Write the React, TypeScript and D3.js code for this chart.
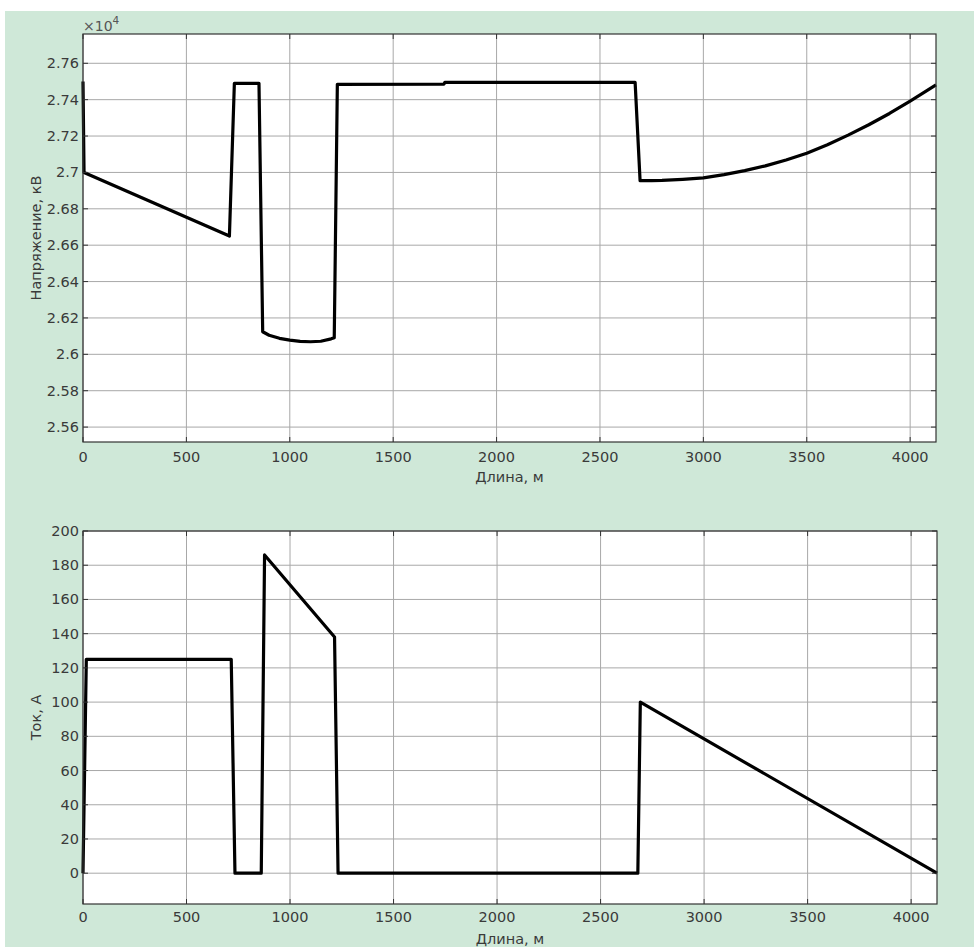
import React from "react";
import * as d3 from "d3";

// Voltage profile (V) along the line (m)
const voltX = [0, 5, 708, 732, 851, 869, 900, 950, 1000, 1050, 1100, 1150, 1200, 1215, 1230, 1745, 1750, 2670, 2694, 2750, 2800, 2900, 3000, 3100, 3200, 3300, 3400, 3500, 3600, 3700, 3800, 3900, 4000, 4125];
const voltY = [27500, 27000, 26650, 27490, 27490, 26124, 26105, 26088, 26078, 26071, 26069, 26072, 26085, 26091, 27484, 27485, 27495, 27495, 26955, 26955, 26956, 26962, 26970, 26988, 27010, 27036, 27068, 27106, 27152, 27205, 27262, 27324, 27392, 27481];

// Current profile (A)
const curX = [0, 16, 716, 734, 861, 877, 1215, 1232, 2680, 2692, 4125];
const curY = [0, 125, 125, 0, 0, 186, 138, 0, 0, 100, 0];

const xTicks = [0, 500, 1000, 1500, 2000, 2500, 3000, 3500, 4000];
const voltTicks = [25600, 25800, 26000, 26200, 26400, 26600, 26800, 27000, 27200, 27400, 27600];
const curTicks = [0, 20, 40, 60, 80, 100, 120, 140, 160, 180, 200];

const FONT = "'DejaVu Sans', Verdana, sans-serif";
const TXT = "#3a3a3a";
const FS = 14.5;

type PanelProps = {
  left: number; right: number; top: number; bottom: number;
  xDomain: [number, number]; yDomain: [number, number];
  xs: number[]; ys: number[]; yTicks: number[];
  yFmt: (v: number) => string; yLabel: string; xLabel: string;
  xTickY: number; xLabelY: number; yLabelX: number;
};

function Panel(p: PanelProps) {
  const x = d3.scaleLinear().domain(p.xDomain).range([p.left, p.right]);
  const y = d3.scaleLinear().domain(p.yDomain).range([p.bottom, p.top]);
  const pts = p.xs.map((v, i) => [v, p.ys[i]] as [number, number]);
  const line = d3.line<[number, number]>().x(d => x(d[0])).y(d => y(d[1]));
  const tl = 5;
  return (
    <g>
      <rect x={p.left} y={p.top} width={p.right - p.left} height={p.bottom - p.top} fill="#ffffff" />
      {xTicks.map(t => (
        <line key={"gx" + t} x1={x(t)} x2={x(t)} y1={p.top} y2={p.bottom} stroke="#a8a8a8" strokeWidth={1} />
      ))}
      {p.yTicks.map(t => (
        <line key={"gy" + t} x1={p.left} x2={p.right} y1={y(t)} y2={y(t)} stroke="#a8a8a8" strokeWidth={1} />
      ))}
      <path d={line(pts) || ""} fill="none" stroke="#000" strokeWidth={3.2} strokeLinejoin="round" />
      {xTicks.map(t => (
        <g key={"tx" + t}>
          <line x1={x(t)} x2={x(t)} y1={p.bottom} y2={p.bottom - tl} stroke="#333" />
          <line x1={x(t)} x2={x(t)} y1={p.top} y2={p.top + tl} stroke="#333" />
          <text x={x(t)} y={p.xTickY} textAnchor="middle" fontSize={FS} fontFamily={FONT} fill={TXT}>{t}</text>
        </g>
      ))}
      {p.yTicks.map(t => (
        <g key={"ty" + t}>
          <line x1={p.left} x2={p.left + tl} y1={y(t)} y2={y(t)} stroke="#333" />
          <line x1={p.right} x2={p.right - tl} y1={y(t)} y2={y(t)} stroke="#333" />
          <text x={p.left - 4} y={y(t) + 5} textAnchor="end" fontSize={FS} fontFamily={FONT} fill={TXT}>{p.yFmt(t)}</text>
        </g>
      ))}
      <rect x={p.left} y={p.top} width={p.right - p.left} height={p.bottom - p.top} fill="none" stroke="#333" strokeWidth={1.2} />
      <text x={(p.left + p.right) / 2} y={p.xLabelY} textAnchor="middle" fontSize={FS} fontFamily={FONT} fill={TXT}>{p.xLabel}</text>
      <text transform={`translate(${p.yLabelX},${(p.top + p.bottom) / 2}) rotate(-90)`} textAnchor="middle" fontSize={FS} fontFamily={FONT} fill={TXT}>{p.yLabel}</text>
    </g>
  );
}

export default function App() {
  return (
    <svg width={974} height={947} style={{ position: "absolute", left: 0, top: 0 }}>
      <rect x={0} y={0} width={974} height={947} fill="#ffffff" />
      <rect x={5} y={11} width={969} height={936} fill="#cfe8d8" />
      <Panel
        left={83} right={936} top={34} bottom={442}
        xDomain={[0, 4125]} yDomain={[25518, 27761]}
        xs={voltX} ys={voltY} yTicks={voltTicks}
        yFmt={v => String(+(v / 10000).toFixed(2))}
        yLabel="Напряжение, кВ" xLabel="Длина, м"
        xTickY={462} xLabelY={482} yLabelX={41}
      />
      <text x={83} y={31} fontSize={14} fontFamily={FONT} fill="#555">×10<tspan dy={-7} fontSize={10.5}>4</tspan></text>
      <Panel
        left={83} right={937} top={531} bottom={904}
        xDomain={[0, 4125]} yDomain={[-18, 200]}
        xs={curX} ys={curY} yTicks={curTicks}
        yFmt={v => String(v)}
        yLabel="Ток, А" xLabel="Длина, м"
        xTickY={922} xLabelY={944} yLabelX={41}
      />
    </svg>
  );
}
